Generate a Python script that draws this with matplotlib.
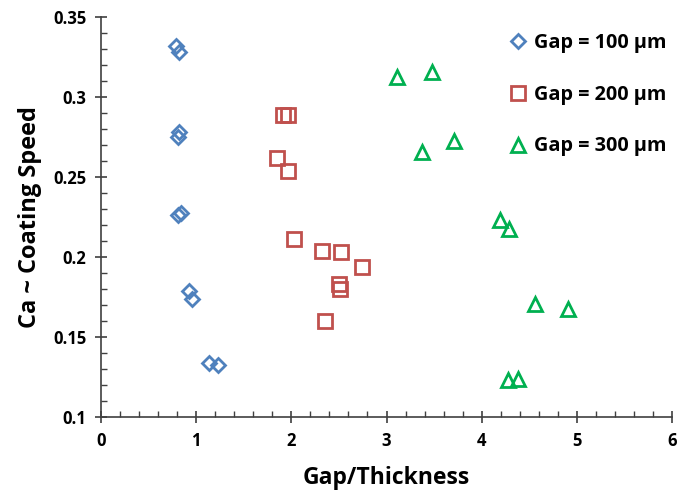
import matplotlib
matplotlib.use("Agg")
import matplotlib.pyplot as plt
from matplotlib.ticker import MultipleLocator

plt.rcParams['font.family'] = ['Open Sans', 'DejaVu Sans']

# Gap/Thickness vs. capillary number for three gap settings
gap100_x = [0.79, 0.82, 0.82, 0.81, 0.84, 0.81, 0.92, 0.96, 1.14, 1.23]
gap100_y = [0.332, 0.328, 0.278, 0.275, 0.2275, 0.226, 0.179, 0.174, 0.134, 0.1325]

gap200_x = [1.91, 1.97, 1.85, 1.97, 2.03, 2.32, 2.52, 2.74, 2.50, 2.51, 2.35]
gap200_y = [0.289, 0.289, 0.262, 0.254, 0.211, 0.204, 0.203, 0.194, 0.183, 0.180, 0.160]

gap300_x = [3.11, 3.48, 3.37, 3.71, 4.19, 4.29, 4.56, 4.91, 4.28, 4.38]
gap300_y = [0.3125, 0.3156, 0.2656, 0.2725, 0.223, 0.2175, 0.1706, 0.1675, 0.123, 0.124]

labels = ["Gap = 100 \u00b5m", "Gap = 200 \u00b5m", "Gap = 300 \u00b5m"]

fig = plt.figure(figsize=(6.79, 4.97), dpi=100)
ax = fig.add_axes([101/679, 80/497, 571/679, 400/497])

ax.plot(gap100_x, gap100_y, linestyle='none', marker='D', markersize=7,
        markerfacecolor='none', markeredgecolor='#4F81BD', markeredgewidth=2,
        label=labels[0])
ax.plot(gap200_x, gap200_y, linestyle='none', marker='s', markersize=10.5,
        markerfacecolor='none', markeredgecolor='#C0504D', markeredgewidth=2,
        label=labels[1])
ax.plot(gap300_x, gap300_y, linestyle='none', marker='^', markersize=10,
        markerfacecolor='none', markeredgecolor='#00B050', markeredgewidth=2,
        label=labels[2])

ax.set_xlim(0, 6)
ax.set_ylim(0.1, 0.35)
ax.xaxis.set_major_locator(MultipleLocator(1))
ax.xaxis.set_minor_locator(MultipleLocator(0.2))
ax.yaxis.set_major_locator(MultipleLocator(0.05))
ax.yaxis.set_minor_locator(MultipleLocator(0.01))
ax.yaxis.set_major_formatter(plt.FuncFormatter(lambda v, p: ('%g' % round(v, 2))))

for s in ('top', 'right'):
    ax.spines[s].set_visible(False)
for s in ('left', 'bottom'):
    ax.spines[s].set_color('#404040')
    ax.spines[s].set_linewidth(1.2)

ax.tick_params(which='major', direction='inout', length=9, width=1.2, color='#404040',
               labelsize=12, pad=6)
ax.tick_params(which='minor', direction='in', length=4, width=1.0, color='#404040')
for lab in ax.get_xticklabels() + ax.get_yticklabels():
    lab.set_fontweight('bold')

ax.set_xlabel("Gap/Thickness", fontsize=16.5, fontweight='bold', labelpad=12)
ax.set_ylabel("Ca ~ Coating Speed", fontsize=17, fontweight='bold', labelpad=8)

leg = ax.legend(loc='upper right', bbox_to_anchor=(1.015, 0.995), frameon=False,
                prop={'weight': 'bold', 'size': 14.3}, handletextpad=0.05,
                labelspacing=1.6, handlelength=1.5, borderaxespad=0.3)

fig.savefig("out.png", dpi=100)
